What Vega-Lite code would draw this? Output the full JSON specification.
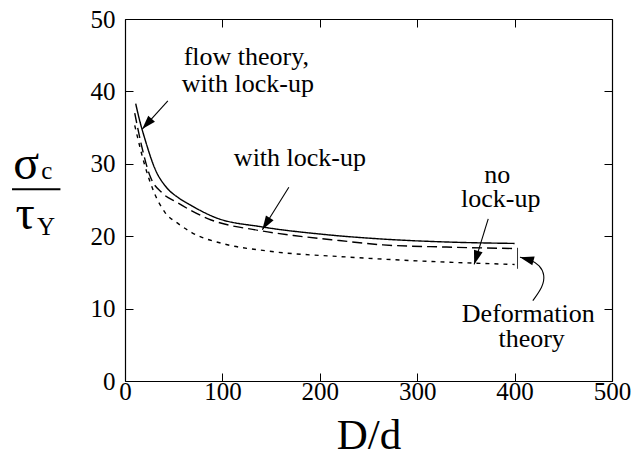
{
  "$schema": "https://vega.github.io/schema/vega-lite/v6.json",
  "autosize": {"type": "none"},
  "width": 487,
  "height": 362,
  "padding": {"left": 125, "top": 19, "right": 20, "bottom": 74},
  "background": "white",
  "config": {
    "view": {"stroke": null},
    "font": "Times New Roman, Liberation Serif, serif",
    "axis": {
      "grid": false,
      "domainColor": "black",
      "tickColor": "black",
      "labelColor": "black",
      "titleColor": "black",
      "labelFont": "Times New Roman, Liberation Serif, serif",
      "titleFont": "Times New Roman, Liberation Serif, serif",
      "labelFontSize": 25,
      "labelFlush": false,
      "labelOverlap": false,
      "tickSize": -8,
      "domainWidth": 1.2,
      "tickWidth": 1
    }
  },
  "datasets": {
    "curves": [
      {"series": "flow", "x": 11, "y": 38.3},
      {"series": "flow", "x": 15, "y": 36.0},
      {"series": "flow", "x": 20.5, "y": 33.4},
      {"series": "flow", "x": 30.8, "y": 29.3},
      {"series": "flow", "x": 42.8, "y": 26.7},
      {"series": "flow", "x": 55, "y": 25.3},
      {"series": "flow", "x": 68.5, "y": 24.2},
      {"series": "flow", "x": 92.4, "y": 22.6},
      {"series": "flow", "x": 140, "y": 21.3},
      {"series": "flow", "x": 200, "y": 20.3},
      {"series": "flow", "x": 265, "y": 19.6},
      {"series": "flow", "x": 330, "y": 19.2},
      {"series": "flow", "x": 400, "y": 19.0},
      {"series": "lock", "x": 10, "y": 37.0},
      {"series": "lock", "x": 17, "y": 32.5},
      {"series": "lock", "x": 25.7, "y": 28.3},
      {"series": "lock", "x": 38, "y": 26.0},
      {"series": "lock", "x": 53, "y": 24.7},
      {"series": "lock", "x": 85.5, "y": 22.4},
      {"series": "lock", "x": 137, "y": 20.8},
      {"series": "lock", "x": 173, "y": 20.1},
      {"series": "lock", "x": 220, "y": 19.4},
      {"series": "lock", "x": 265, "y": 18.8},
      {"series": "lock", "x": 330, "y": 18.5},
      {"series": "lock", "x": 400, "y": 18.3},
      {"series": "nolock", "x": 10, "y": 35.3},
      {"series": "nolock", "x": 20.5, "y": 29.7},
      {"series": "nolock", "x": 30, "y": 26.0},
      {"series": "nolock", "x": 41, "y": 23.3},
      {"series": "nolock", "x": 55, "y": 21.7},
      {"series": "nolock", "x": 68.5, "y": 20.5},
      {"series": "nolock", "x": 102.7, "y": 18.9},
      {"series": "nolock", "x": 143.7, "y": 18.0},
      {"series": "nolock", "x": 231, "y": 17.1},
      {"series": "nolock", "x": 333.7, "y": 16.4},
      {"series": "nolock", "x": 400, "y": 16.1}
    ],
    "arrows": [
      {"arrow": "a1", "i": 0, "x": 44.0, "y": 38.7},
      {"arrow": "a1", "i": 1, "x": 17.7, "y": 34.8},
      {"arrow": "a2", "i": 0, "x": 168.2, "y": 26.75},
      {"arrow": "a2", "i": 1, "x": 141.0, "y": 20.9},
      {"arrow": "a3", "i": 0, "x": 372.9, "y": 22.4},
      {"arrow": "a3", "i": 1, "x": 358.5, "y": 16.1},
      {"arrow": "a4", "i": 0, "x": 418.7, "y": 11.1},
      {"arrow": "a4", "i": 1, "x": 429, "y": 13.0},
      {"arrow": "a4", "i": 2, "x": 431.1, "y": 14.6},
      {"arrow": "a4", "i": 3, "x": 426, "y": 16.0},
      {"arrow": "a4", "i": 4, "x": 415.8, "y": 16.8},
      {"arrow": "a4", "i": 5, "x": 405.5, "y": 17.1}
    ],
    "labels": [
      {"text": "flow theory,", "x": 124.6, "y": 43.6},
      {"text": "with lock-up", "x": 126.2, "y": 39.9},
      {"text": "with lock-up", "x": 179.6, "y": 29.7},
      {"text": "no", "x": 382.1, "y": 27.4},
      {"text": "lock-up", "x": 385.7, "y": 24.0},
      {"text": "Deformation", "x": 414, "y": 8.2},
      {"text": "theory", "x": 417.5, "y": 4.7}
    ]
  },
  "layer": [
    {
      "data": {"name": "curves"},
      "mark": {"type": "line", "color": "black", "strokeWidth": 1.4, "interpolate": "monotone"},
      "encoding": {
        "x": {"field": "x", "type": "quantitative", "scale": {"domain": [0, 500], "nice": false},
              "axis": {"orient": "bottom", "values": [0, 100, 200, 300, 400, 500], "labelPadding": 6, "title": "D/d", "titleFontSize": 43, "titleFontWeight": "normal", "titlePadding": 10}},
        "y": {"field": "y", "type": "quantitative", "scale": {"domain": [0, 50], "nice": false},
              "axis": {"orient": "left", "values": [0, 10, 20, 30, 40, 50], "labelPadding": 18, "title": null}},
        "strokeDash": {"field": "series", "type": "nominal",
                       "scale": {"domain": ["flow", "lock", "nolock"], "range": [[1, 0], [10, 5], [4, 5]]},
                       "legend": null}
      }
    },
    {
      "data": {"name": "curves"},
      "mark": {"type": "point", "opacity": 0},
      "encoding": {
        "x": {"field": "x", "type": "quantitative", "axis": {"orient": "top", "values": [0, 100, 200, 300, 400, 500], "labels": false, "title": null}},
        "y": {"field": "y", "type": "quantitative", "axis": {"orient": "right", "values": [0, 10, 20, 30, 40, 50], "labels": false, "title": null}}
      }
    },
    {
      "data": {"name": "arrows"},
      "mark": {"type": "line", "color": "black", "strokeWidth": 1.1, "interpolate": "basis"},
      "encoding": {
        "x": {"field": "x", "type": "quantitative", "axis": null},
        "y": {"field": "y", "type": "quantitative", "axis": null},
        "detail": {"field": "arrow"},
        "order": {"field": "i", "type": "quantitative"}
      }
    },
    {
      "data": {"name": "arrows"},
      "transform": [{"filter": "datum.arrow == 'a1' && datum.i == 1"}],
      "mark": {"type": "point", "shape": "M0,0L0.45,1.4L-0.45,1.4Z", "size": 400, "filled": true, "color": "black", "opacity": 1, "angle": 222},
      "encoding": {"x": {"field": "x", "type": "quantitative", "axis": null}, "y": {"field": "y", "type": "quantitative", "axis": null}}
    },
    {
      "data": {"name": "arrows"},
      "transform": [{"filter": "datum.arrow == 'a2' && datum.i == 1"}],
      "mark": {"type": "point", "shape": "M0,0L0.45,1.4L-0.45,1.4Z", "size": 400, "filled": true, "color": "black", "opacity": 1, "angle": 212},
      "encoding": {"x": {"field": "x", "type": "quantitative", "axis": null}, "y": {"field": "y", "type": "quantitative", "axis": null}}
    },
    {
      "data": {"name": "arrows"},
      "transform": [{"filter": "datum.arrow == 'a3' && datum.i == 1"}],
      "mark": {"type": "point", "shape": "M0,0L0.45,1.4L-0.45,1.4Z", "size": 400, "filled": true, "color": "black", "opacity": 1, "angle": 197},
      "encoding": {"x": {"field": "x", "type": "quantitative", "axis": null}, "y": {"field": "y", "type": "quantitative", "axis": null}}
    },
    {
      "data": {"name": "arrows"},
      "transform": [{"filter": "datum.arrow == 'a4' && datum.i == 5"}],
      "mark": {"type": "point", "shape": "M0,0L0.45,1.4L-0.45,1.4Z", "size": 400, "filled": true, "color": "black", "opacity": 1, "angle": 285},
      "encoding": {"x": {"field": "x", "type": "quantitative", "axis": null}, "y": {"field": "y", "type": "quantitative", "axis": null}}
    },
    {
      "data": {"values": [{"x": 403, "y": 18.4, "y2": 15.5}]},
      "mark": {"type": "rule", "color": "#333", "strokeWidth": 1},
      "encoding": {
        "x": {"field": "x", "type": "quantitative", "axis": null},
        "y": {"field": "y", "type": "quantitative", "axis": null},
        "y2": {"field": "y2"}
      }
    },
    {
      "data": {"name": "labels"},
      "mark": {"type": "text", "font": "Times New Roman, Liberation Serif, serif", "fontSize": 26, "color": "black", "align": "center", "baseline": "alphabetic"},
      "encoding": {
        "x": {"field": "x", "type": "quantitative", "axis": null},
        "y": {"field": "y", "type": "quantitative", "axis": null},
        "text": {"field": "text"}
      }
    },
    {
      "data": {"values": [{"text": "σ", "x": -101.5, "y": 27.9}, {"text": "τ", "x": -102.5, "y": 21.0}]},
      "mark": {"type": "text", "font": "Times New Roman, Liberation Serif, serif", "fontSize": 48, "color": "black", "align": "center", "baseline": "alphabetic"},
      "encoding": {
        "x": {"field": "x", "type": "quantitative", "axis": null},
        "y": {"field": "y", "type": "quantitative", "axis": null},
        "text": {"field": "text"}
      }
    },
    {
      "data": {"values": [{"text": "c", "x": -80.2, "y": 27.9}, {"text": "Y", "x": -81, "y": 20.2}]},
      "mark": {"type": "text", "font": "Times New Roman, Liberation Serif, serif", "fontSize": 25, "color": "black", "align": "center", "baseline": "alphabetic"},
      "encoding": {
        "x": {"field": "x", "type": "quantitative", "axis": null},
        "y": {"field": "y", "type": "quantitative", "axis": null},
        "text": {"field": "text"}
      }
    },
    {
      "data": {"values": [{"x": -116, "x2": -66.3, "y": 26.5}]},
      "mark": {"type": "rule", "color": "black", "strokeWidth": 2},
      "encoding": {
        "x": {"field": "x", "type": "quantitative", "axis": null},
        "x2": {"field": "x2"},
        "y": {"field": "y", "type": "quantitative", "axis": null}
      }
    }
  ],
  "resolve": {"axis": {"x": "independent", "y": "independent"}}
}
